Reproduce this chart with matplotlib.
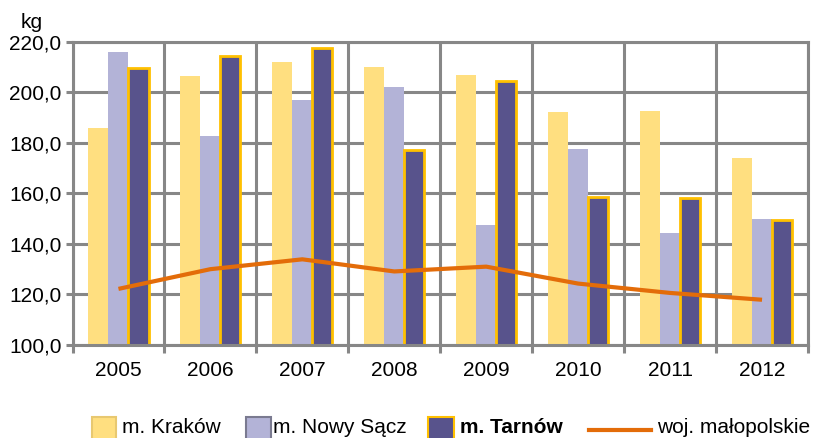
import matplotlib
matplotlib.use("Agg")
import matplotlib.pyplot as plt
from matplotlib.patches import Rectangle
from matplotlib.lines import Line2D
import numpy as np

plt.rcParams['font.family'] = ['Liberation Sans', 'DejaVu Sans']

years = ['2005', '2006', '2007', '2008', '2009', '2010', '2011', '2012']
krakow = [185.7, 206.3, 212.1, 210.1, 206.9, 192.0, 192.7, 173.8]
nowy_sacz = [215.8, 182.5, 197.0, 201.9, 147.5, 177.5, 144.2, 150.0]
tarnow = [209.4, 214.2, 217.4, 177.3, 204.3, 158.6, 158.0, 149.3]
malopolskie = [122.2, 130.0, 133.9, 129.1, 131.0, 124.3, 120.6, 117.9]

series_names = ['m. Kraków', 'm. Nowy Sącz', 'm. Tarnów', 'woj. małopolskie']
y_ticks = [100, 120, 140, 160, 180, 200, 220]

c_krakow = '#FFDF80'
c_ns = '#B3B3D7'
c_tarnow = '#58538C'
c_tarnow_edge = '#FFC000'
c_line = '#E36C09'
c_grid = '#878787'
fs = 15

W, H = 813, 438
fig = plt.figure(figsize=(W / 100, H / 100), dpi=100)
ax = fig.add_axes([72.5 / W, (H - 345) / H, (808 - 72.5) / W, (345 - 41.7) / H])

x = np.arange(len(years))
bw = 0.218
ax.bar(x - bw, krakow, bw, color=c_krakow, zorder=2)
ax.bar(x, nowy_sacz, bw, color=c_ns, zorder=2)
ax.bar(x + bw, tarnow, bw, color=c_tarnow, edgecolor=c_tarnow_edge,
       linewidth=2.0, zorder=2)
ax.plot(x, malopolskie, color=c_line, linewidth=3.0, zorder=3,
        solid_capstyle='butt')

ax.set_xlim(-0.5, len(years) - 0.5)
ax.set_ylim(100, 220)
ax.set_yticks(y_ticks)
ax.set_yticklabels([f'{v:.1f}'.replace('.', ',') for v in y_ticks], fontsize=fs)

# category boundaries carry the vertical grid and the bottom tick marks
ax.set_xticks(np.arange(-0.5, len(years), 1.0))
ax.set_xticklabels([])
ax.set_xticks(x, minor=True)
ax.set_xticklabels(years, minor=True, fontsize=fs)
ax.tick_params(axis='x', which='minor', length=0, pad=11.5)
ax.tick_params(axis='x', which='major', length=6, width=2.2, color=c_grid)
ax.tick_params(axis='y', length=5, width=2.2, color=c_grid, pad=3)

ax.set_axisbelow(True)
ax.grid(True, which='major', color=c_grid, linewidth=2.2)
for s in ax.spines.values():
    s.set_color(c_grid)
    s.set_linewidth(2.2)
    s.set_zorder(4)

fig.text(21 / W, 1 - 28 / H, 'kg', fontsize=fs, va='baseline', ha='left')

# legend row along the bottom edge
def fx(px):
    return px / W

def fy(py):
    return 1 - py / H

patch_y0, patch_y1 = 416.5, 440
text_base = 433
legend_items = [
    (92, 116, c_krakow, '#E8C870', 122, series_names[0], 'normal'),
    (246, 271, c_ns, '#7A7A90', 273, series_names[1], 'normal'),
    (428, 454, c_tarnow, c_tarnow_edge, 460, series_names[2], 'bold'),
]
for x0, x1, fc, ec, tx, label, wt in legend_items:
    fig.patches.append(Rectangle((fx(x0), fy(patch_y1)), fx(x1 - x0),
                                 (patch_y1 - patch_y0) / H, facecolor=fc,
                                 edgecolor=ec, linewidth=1.5,
                                 transform=fig.transFigure, figure=fig))
    fig.text(fx(tx), fy(text_base), label, fontsize=fs, fontweight=wt,
             va='baseline', ha='left')

fig.lines.append(Line2D([fx(589), fx(651)], [fy(430), fy(430)], color=c_line,
                        linewidth=3.0, transform=fig.transFigure, figure=fig))
fig.text(fx(657), fy(text_base), series_names[3], fontsize=fs, va='baseline',
         ha='left')

fig.savefig('out.png', dpi=100)
